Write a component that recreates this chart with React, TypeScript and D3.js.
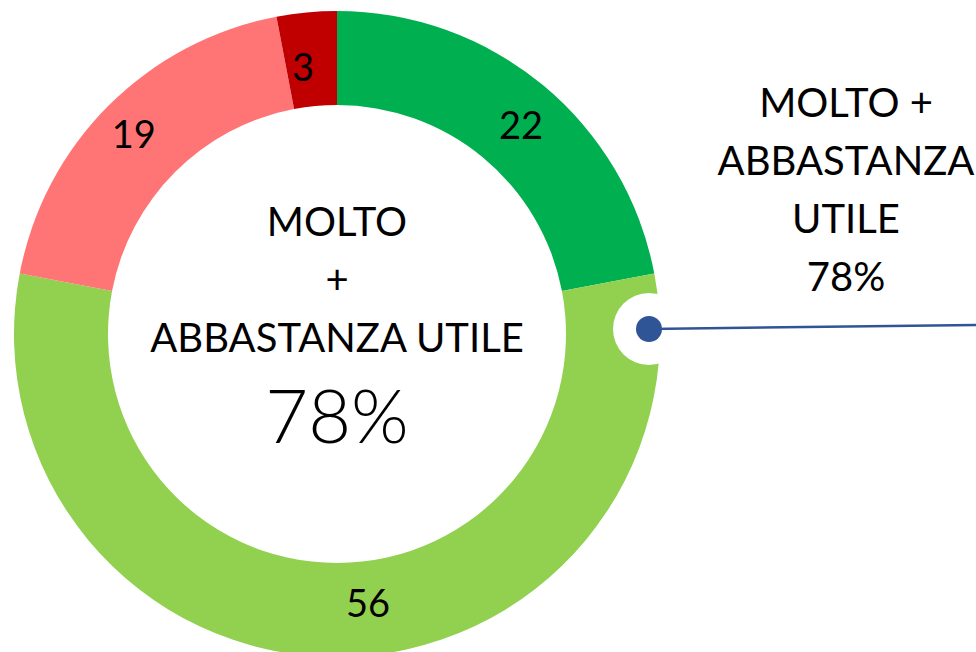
import React from "react";
import * as d3 from "d3";

const categories = ["Molto utile", "Abbastanza utile", "Poco utile", "Per niente utile"];
const values = [22, 56, 19, 3];
const colors = ["#00B050", "#92D050", "#FF7575", "#C00000"];
const centerLines = ["MOLTO", "+", "ABBASTANZA UTILE"];
const centerValue = "78%";
const sideLines = ["MOLTO +", "ABBASTANZA", "UTILE", "78%"];

const W = 976;
const H = 652;
const cx = 337;
const cy = 334;
const R = 323;
const r = 229;
const labelR = 276;
const labelNudge: [number, number][] = [
  [8, 3],
  [31, -8],
  [-8, -6],
  [-8, 7],
];
const FONT = "Lato, 'Open Sans', sans-serif";

export default function App() {
  const pie = d3.pie<number>().sort(null).value((d) => d);
  const arcs = pie(values);
  const arc = d3.arc<d3.PieArcDatum<number>>().innerRadius(r).outerRadius(R);
  const labelArc = d3
    .arc<d3.PieArcDatum<number>>()
    .innerRadius(labelR)
    .outerRadius(labelR);

  const dotX = 649;
  const dotY = 329;

  return (
    <svg
      width={W}
      height={H}
      style={{ position: "absolute", left: 0, top: 0, background: "#fff" }}
      fontFamily={FONT}
    >
      <g transform={`translate(${cx},${cy})`}>
        {arcs.map((a, i) => (
          <path key={categories[i]} d={arc(a) || ""} fill={colors[i]} />
        ))}
        {arcs.map((a, i) => {
          const [x, y] = labelArc.centroid(a);
          return (
            <text
              key={"l" + i}
              x={x + labelNudge[i][0]}
              y={y + labelNudge[i][1]}
              textAnchor="middle"
              dominantBaseline="central"
              fontSize={38}
              fill="#000"
            >
              {values[i]}
            </text>
          );
        })}
        {centerLines.map((t, i) => (
          <text
            key={"c" + i}
            x={0}
            y={-98 + i * 58}
            textAnchor="middle"
            fontSize={40}
            fill="#000"
          >
            {t}
          </text>
        ))}
        <text x={0} y={109} textAnchor="middle" fontSize={74} fontWeight={300} fill="#000">
          {centerValue}
        </text>
      </g>
      <circle cx={dotX} cy={dotY} r={36} fill="#fff" />
      <line x1={dotX} y1={dotY} x2={W} y2={325} stroke="#2F5597" strokeWidth={2.5} />
      <circle cx={dotX} cy={dotY} r={13} fill="#2F5597" />
      {sideLines.map((t, i) => (
        <text
          key={"s" + i}
          x={846}
          y={117 + i * 58}
          textAnchor="middle"
          fontSize={40}
          fill="#000"
        >
          {t}
        </text>
      ))}
    </svg>
  );
}
